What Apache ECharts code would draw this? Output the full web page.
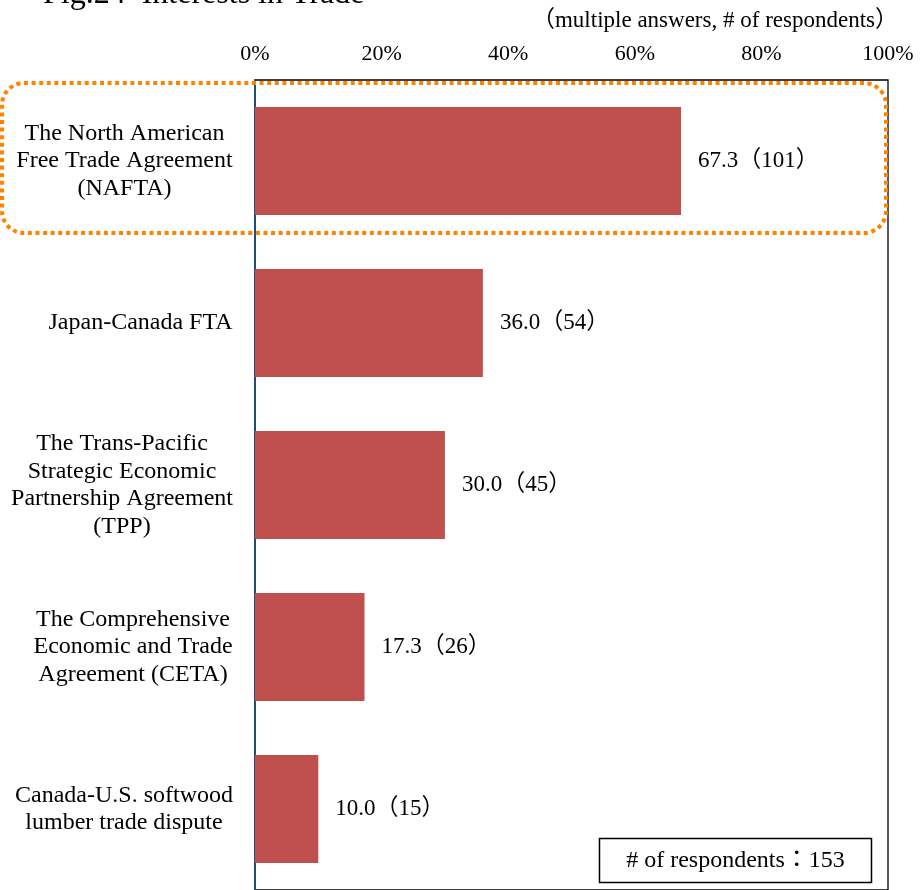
<!DOCTYPE html>
<html>
<head>
<meta charset="utf-8">
<script src="https://cdn.jsdelivr.net/npm/echarts@6/dist/echarts.min.js"></script>
<style>html,body{margin:0;padding:0;background:#fff}#chart{width:923px;height:890px}</style>
</head>
<body>
<div id="chart"></div>
<script>
var categories = [
  "The North American\nFree Trade Agreement\n(NAFTA)",
  "Japan-Canada FTA",
  "The Trans-Pacific\nStrategic Economic\nPartnership Agreement\n(TPP)",
  "The Comprehensive\nEconomic and Trade\nAgreement (CETA)",
  "Canada-U.S. softwood\nlumber trade dispute"
];
var percentValues = [67.3, 36.0, 30.0, 17.3, 10.0];
var respondentCounts = [101, 54, 45, 26, 15];
var xTicks = [0, 20, 40, 60, 80, 100];
var titleText = "Fig.24  Interests in Trade";
var noteText = "（multiple answers, # of respondents）";
var totalText = "# of respondents：153";

var FONT = "'Liberation Serif', 'Times New Roman', 'Noto Sans CJK JP', serif";
var catSize = 24;

var cv = document.createElement('canvas').getContext('2d');
cv.font = catSize + "px 'Liberation Serif'";
var rich = {};
categories.forEach(function (c, i) {
  var w = 0;
  c.split('\n').forEach(function (l) { w = Math.max(w, cv.measureText(l).width); });
  rich['c' + i] = { width: Math.ceil(w) + 2, align: 'center', fontSize: catSize, lineHeight: 27.5, fontFamily: FONT, color: '#000' };
});

var chart = echarts.init(document.getElementById('chart'), null, { renderer: 'canvas' });
chart.setOption({
  animation: false,
  backgroundColor: '#fff',
  grid: { left: 255, right: 35, top: 80, height: 814, show: true, borderColor: '#000', borderWidth: 1.3, backgroundColor: 'transparent' },
  xAxis: {
    type: 'value', position: 'top', min: xTicks[0], max: xTicks[xTicks.length - 1], interval: 20,
    axisLine: { show: false }, axisTick: { show: false }, splitLine: { show: false },
    axisLabel: { formatter: '{value}%', fontSize: 22, fontFamily: FONT, color: '#000', margin: 15 }
  },
  yAxis: {
    type: 'category', inverse: true, data: categories,
    axisLine: { show: true, lineStyle: { color: '#1F4E79', width: 2 } },
    axisTick: { show: false },
    axisLabel: {
      margin: 21, align: 'right', rich: rich,
      formatter: function (v, i) {
        return v.split('\n').map(function (l) { return '{c' + i + '|' + l + '}'; }).join('\n');
      }
    }
  },
  series: [{
    type: 'bar', data: percentValues, barWidth: 108,
    itemStyle: { color: '#C0504D' },
    label: {
      show: true, position: 'right', distance: 17, fontSize: 23, fontFamily: FONT, color: '#000',
      formatter: function (p) { return p.value.toFixed(1) + '（' + respondentCounts[p.dataIndex] + '）'; }
    }
  }],
  graphic: [
    { type: 'text', x: 43, y: -5, style: { text: titleText, font: "32px 'Liberation Serif'", fill: '#000', textAlign: 'left', textVerticalAlign: 'middle' } },
    { type: 'text', x: 898, y: 21, style: { text: noteText, font: "23px 'Liberation Serif', 'Noto Sans CJK JP'", fill: '#000', textAlign: 'right', textVerticalAlign: 'middle' } },
    { type: 'rect', shape: { x: 2, y: 83, width: 884, height: 150, r: 22 }, style: { fill: 'none', stroke: '#FF8200', lineWidth: 4, lineDash: [4, 3.6] }, z: 100 },
    { type: 'rect', shape: { x: 599.5, y: 838.5, width: 272, height: 44 }, style: { fill: '#fff', stroke: '#000', lineWidth: 1.5 }, z: 100 },
    { type: 'text', x: 735.5, y: 861, style: { text: totalText, font: "24px 'Liberation Serif', 'Noto Sans CJK JP'", fill: '#000', textAlign: 'center', textVerticalAlign: 'middle' }, z: 101 }
  ]
});
</script>
</body>
</html>
